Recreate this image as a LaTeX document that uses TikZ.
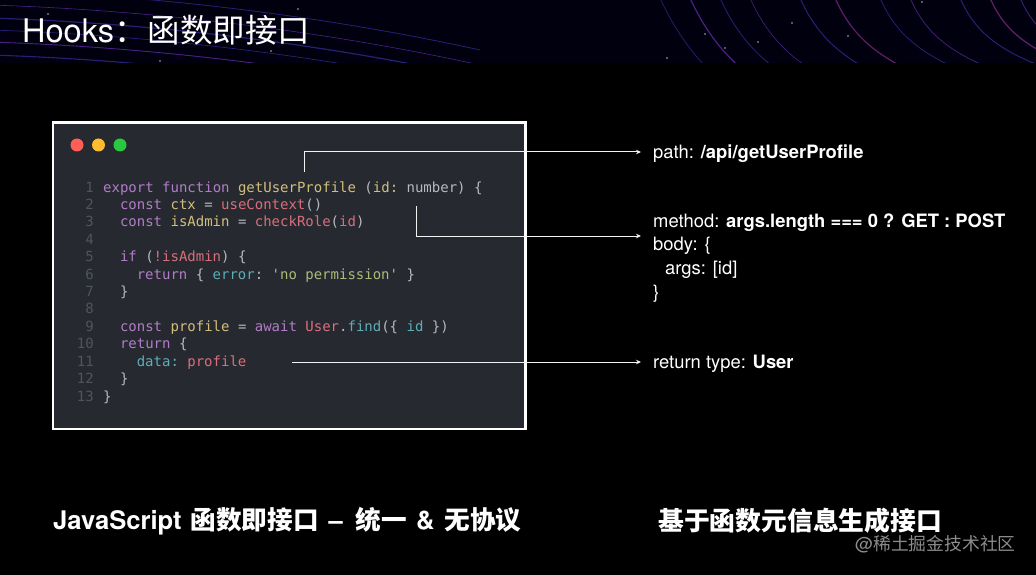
\documentclass[tikz,border=0pt]{standalone}
\usepackage{fontspec}
\setmainfont{TeX Gyre Heros}
\setmonofont{DejaVu Sans Mono}
\newfontfamily\cjkfont{Noto Sans CJK SC}
\usetikzlibrary{arrows.meta,calc}
\definecolor{panel}{HTML}{26292F}
\definecolor{lnumc}{HTML}{50555D}
\definecolor{ckw}{HTML}{B27DC8}
\definecolor{cyel}{HTML}{D2BF7E}
\definecolor{cred}{HTML}{D96F7C}
\definecolor{cteal}{HTML}{5DAEB7}
\definecolor{cstr}{HTML}{AFBA7A}
\definecolor{cpun}{HTML}{B5B9C1}
\definecolor{dotr}{HTML}{FF5F57}
\definecolor{doty}{HTML}{FEBC2E}
\definecolor{dotg}{HTML}{28C840}
\definecolor{streakA}{HTML}{3A2FA0}
\definecolor{streakB}{HTML}{6A2FB5}
\definecolor{streakC}{HTML}{8A2A90}
\newcommand\codekw[1]{\textcolor{ckw}{#1}}
\newcommand\codey[1]{\textcolor{cyel}{#1}}
\newcommand\coder[1]{\textcolor{cred}{#1}}
\newcommand\codet[1]{\textcolor{cteal}{#1}}
\newcommand\codes[1]{\textcolor{cstr}{#1}}
\tikzset{
  codeline/.style={anchor=base west, inner sep=0pt, text=cpun, font=\fontsize{14}{14}\selectfont\ttfamily},
  linenum/.style={anchor=base east, inner sep=0pt, text=lnumc, font=\fontsize{14}{14}\selectfont\ttfamily},
  lbl/.style={anchor=base west, inner sep=0pt, text=white, font=\fontsize{18.4}{18.4}\selectfont},
  conn/.style={draw=white!90!gray, line width=1pt, -{Stealth[length=5pt,width=4.5pt]}},
  foot/.style={anchor=base west, inner sep=0pt, text=white, font=\bfseries\fontsize{25.6}{25.6}\selectfont},
  winbtn/.style={circle, inner sep=0pt, minimum size=13pt},
  streak/.style={line width=#1, opacity=0.7},
}
\begin{document}
\begin{tikzpicture}[x=1pt,y=-1pt]
% background
\fill[black] (0,0) rectangle (1036,575);
\fill[black!94!blue] (0,0) rectangle (1036,63);
\begin{scope}
\clip (0,0) rectangle (1036,63);
% left streaks
\foreach \a/\c/\w in {-10/streakA/0.8, 5/streakB/0.6, 18/streakA/1.2, 30/streakA/0.7, 42/streakB/0.9, 55/streakA/1.1, 68/streakC/0.6}{
  \draw[streak=\w, \c] (-10,\a) .. controls (150,{\a+5}) and (320,{\a+25}) .. (480,{\a+60});
}
% right streaks
\foreach \x/\c/\w in {660/streakA/0.7, 690/streakB/1.2, 720/streakA/0.8, 750/streakB/0.6, 800/streakA/1.0, 835/streakC/1.2, 880/streakA/0.8, 910/streakB/0.7, 960/streakA/1.0, 990/streakC/1.3, 1020/streakB/0.8}{
  \draw[streak=\w, \c] (\x,-2) .. controls ({\x+10},20) and ({\x+25},45) .. ({\x+45+(\x-660)*0.12},66);
}
\foreach \p in {(48,14),(160,61),(298,9),(271,51),(705,34),(725,48),(758,42),(792,23),(848,36),(922,2),(667,58)}{
  \fill[white, opacity=0.7] \p circle (0.9);
}
\end{scope}
% title
\node[anchor=base west, inner sep=0pt, text=white, font=\fontsize{32.5}{32.5}\selectfont] (title) at (22,43) {Hooks{\cjkfont ：\kern1pt 函数即接口}};
% code window
\draw[white, line width=2.5pt, fill=panel] (53,122.5) rectangle (525.5,429);
\node[winbtn, fill=dotr] (bR) at (77,145) {};
\node[winbtn, fill=doty] (bY) at (98.5,145) {};
\node[winbtn, fill=dotg] (bG) at (120,145) {};
\foreach \i in {1,...,13}{
  \node[linenum] (n\i) at (94,{192+17.42*(\i-1)}) {\i};
}
\node[codeline] (c1) at (103,192.0) {\codekw{export} \codekw{function} \codey{getUserProfile} (\codey{id:} number) \{};
\node[codeline] (c2) at (119.8,209.4) {\codekw{const} \codey{ctx} = \coder{useContext}()};
\node[codeline] (c3) at (119.8,226.8) {\codekw{const} \codey{isAdmin} = \coder{checkRole}(\coder{id})};
\node[codeline] (c5) at (119.8,261.7) {\codekw{if} (\coder{!isAdmin}) \{};
\node[codeline] (c6) at (136.6,279.1) {\codekw{return} \{ \codet{error}: \codes{\textquotesingle no permission\textquotesingle} \}};
\node[codeline] (c7) at (119.8,296.5) {\}};
\node[codeline] (c9) at (119.8,331.4) {\codekw{const} \codey{profile} = \codekw{await} \coder{User}.\codet{find}(\{ \codet{id} \})};
\node[codeline] (c10) at (119.8,348.8) {\codekw{return} \{};
\node[codeline] (c11) at (136.6,366.2) {\codet{data:} \coder{profile}};
\node[codeline] (c12) at (119.8,383.6) {\}};
\node[codeline] (c13) at (103,401.0) {\}};
% right labels
\node[lbl] (path) at (653,158.5) {path: \textbf{/api/getUserProfile}};
\node[lbl] (method) at (653,227) {method: \textbf{args.length === 0 ? GET : POST}};
\node[lbl] (body) at (653,250.5) {body: \{};
\node[lbl] (args) at (665,274.5) {args: [id]};
\node[lbl] (close) at (653,298) {\}};
\node[lbl] (ret) at (653,368) {return type: \textbf{User}};
% connectors
\coordinate (s1) at (304,172);
\coordinate (s2) at (416,206);
\coordinate (s3) at (292,362);
\draw[conn] (s1) |- ($(path.base west)+(-12,-6.5)$);
\draw[conn] (s2) |- ($(body.base west)+(-12,-14.5)$);
\draw[conn] (s3) -- ($(ret.base west)+(-12,-6)$);
% footer
\node[foot] (foot1) at (53,529) {JavaScript\hspace{9pt}{\cjkfont 函数即接口}\hspace{10pt}–\hspace{13pt}{\cjkfont 统一}\hspace{9pt}\&\hspace{10pt}{\cjkfont 无协议}};
\node[foot, font=\bfseries\fontsize{25.8}{25.8}\selectfont] (foot2) at (658,530) {\cjkfont 基于函数元信息生成接口};
\node[anchor=base west, inner sep=0pt, text=white!55!black, font=\fontsize{17.8}{17.8}\selectfont] (wm) at (855,550.5) {@{\cjkfont 稀土掘金技术社区}};
\end{tikzpicture}
\end{document}
